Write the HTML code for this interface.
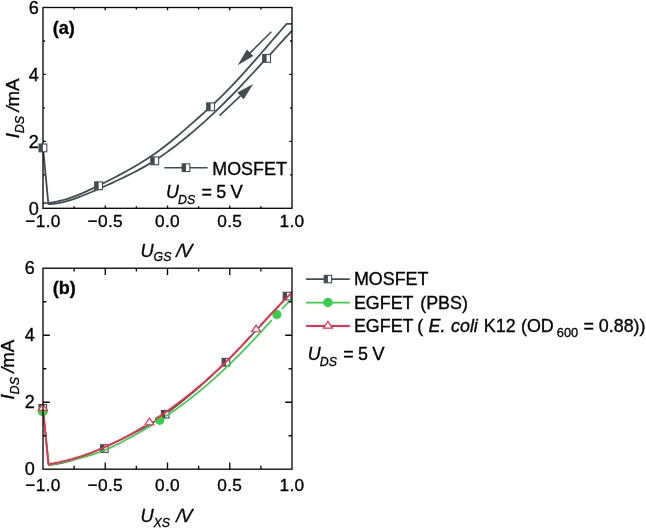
<!DOCTYPE html>
<html><head><meta charset="utf-8"><title>chart</title>
<style>html,body{margin:0;padding:0;background:#fff}svg{display:block;filter:blur(0.4px)}text{stroke:#000;stroke-width:.32px}</style>
</head><body>
<svg width="646" height="528" viewBox="0 0 646 528" font-family="'Liberation Sans', sans-serif" fill="#000">
<rect width="646" height="528" fill="#fff"/>
<text x="43.00" y="226.60" font-size="17.3" letter-spacing="0.3" text-anchor="middle">−1.0</text>
<text x="105.25" y="226.60" font-size="17.3" letter-spacing="0.3" text-anchor="middle">−0.5</text>
<text x="167.50" y="226.60" font-size="17.3" letter-spacing="0.3" text-anchor="middle">0.0</text>
<text x="229.75" y="226.60" font-size="17.3" letter-spacing="0.3" text-anchor="middle">0.5</text>
<text x="292.00" y="226.60" font-size="17.3" letter-spacing="0.3" text-anchor="middle">1.0</text>
<text x="38.70" y="214.80" font-size="18" text-anchor="end">0</text>
<text x="38.70" y="147.87" font-size="18" text-anchor="end">2</text>
<text x="38.70" y="80.93" font-size="18" text-anchor="end">4</text>
<text x="38.70" y="14.00" font-size="18" text-anchor="end">6</text>
<polyline points="43.00,147.90 48.40,204.13 53.27,203.75 58.14,203.04 63.02,202.04 67.89,200.77 72.76,199.28 77.63,197.60 82.50,195.76 87.38,193.79 92.25,191.74 97.12,189.64 101.99,187.49 106.86,185.30 111.74,183.07 116.61,180.80 121.48,178.48 126.35,176.11 131.22,173.69 136.10,171.20 140.97,168.61 145.84,165.90 150.71,163.03 155.58,159.99 160.46,156.77 165.33,153.38 170.20,149.84 175.07,146.18 179.94,142.41 184.82,138.52 189.69,134.51 194.56,130.39 199.43,126.15 204.30,121.81 209.18,117.36 214.05,112.80 218.92,108.14 223.79,103.37 228.66,98.51 233.54,93.55 238.41,88.51 243.28,83.39 248.15,78.22 253.02,72.99 257.90,67.73 262.77,62.44 267.64,57.13 272.51,51.81 277.38,46.50 282.26,41.20 287.13,35.93 292.00,30.70" fill="none" stroke="#414c50" stroke-width="1.8" stroke-linejoin="round"/>
<polyline points="43.00,203.11 47.87,202.87 52.74,202.29 57.62,201.41 62.49,200.24 67.36,198.81 72.23,197.17 77.10,195.32 81.98,193.31 86.85,191.16 91.72,188.89 96.59,186.54 101.46,184.13 106.34,181.69 111.21,179.22 116.08,176.70 120.95,174.13 125.82,171.49 130.70,168.76 135.57,165.94 140.44,163.01 145.31,159.95 150.18,156.76 155.06,153.42 159.93,149.92 164.80,146.24 169.67,142.42 174.54,138.45 179.42,134.37 184.29,130.18 189.16,125.92 194.03,121.60 198.90,117.23 203.78,112.84 208.65,108.45 213.52,104.01 218.39,99.43 223.26,94.67 228.14,89.74 233.01,84.66 237.88,79.45 242.75,74.13 247.62,68.70 252.50,63.20 257.37,57.63 262.24,52.02 267.11,46.38 271.98,40.73 276.86,35.09 281.73,29.47 286.60,23.90 292.00,23.90" fill="none" stroke="#414c50" stroke-width="1.8" stroke-linejoin="round"/>
<rect x="43.0" y="7.5" width="249.0" height="200.8" fill="none" stroke="#0a0a0a" stroke-width="1.35"/>
<path d="M74.12 208.3v-2.0M74.12 7.5v2.0M105.25 208.3v-2.8M105.25 7.5v2.8M136.38 208.3v-2.0M136.38 7.5v2.0M167.50 208.3v-2.8M167.50 7.5v2.8M198.62 208.3v-2.0M198.62 7.5v2.0M229.75 208.3v-2.8M229.75 7.5v2.8M260.88 208.3v-2.0M260.88 7.5v2.0M43.0 174.83h2.0M292.0 174.83h-2.0M43.0 141.37h2.8M292.0 141.37h-2.8M43.0 107.90h2.0M292.0 107.90h-2.0M43.0 74.43h2.8M292.0 74.43h-2.8M43.0 40.97h2.0M292.0 40.97h-2.0" stroke="#0a0a0a" stroke-width="1.35" fill="none"/>
<rect x="39.00" y="144.00" width="7.8" height="7.8" fill="#fff" stroke="#414c50" stroke-width="1.1"/><rect x="39.00" y="144.00" width="3.90" height="7.8" fill="#414c50"/>
<rect x="94.70" y="181.90" width="7.8" height="7.8" fill="#fff" stroke="#414c50" stroke-width="1.1"/><rect x="94.70" y="181.90" width="3.90" height="7.8" fill="#414c50"/>
<rect x="150.80" y="156.90" width="7.8" height="7.8" fill="#fff" stroke="#414c50" stroke-width="1.1"/><rect x="150.80" y="156.90" width="3.90" height="7.8" fill="#414c50"/>
<rect x="206.70" y="102.90" width="7.8" height="7.8" fill="#fff" stroke="#414c50" stroke-width="1.1"/><rect x="206.70" y="102.90" width="3.90" height="7.8" fill="#414c50"/>
<rect x="262.70" y="54.50" width="7.8" height="7.8" fill="#fff" stroke="#414c50" stroke-width="1.1"/><rect x="262.70" y="54.50" width="3.90" height="7.8" fill="#414c50"/>
<line x1="271.40" y1="31.70" x2="250.11" y2="52.86" stroke="#414c50" stroke-width="1.6"/><polygon points="237.70,65.20 246.87,49.60 253.35,56.12" fill="#414c50"/>
<line x1="219.50" y1="115.70" x2="240.47" y2="95.91" stroke="#414c50" stroke-width="1.6"/><polygon points="253.20,83.90 243.63,99.26 237.32,92.56" fill="#414c50"/>
<line x1="164.4" y1="167.7" x2="207.6" y2="167.7" stroke="#414c50" stroke-width="1.6"/>
<rect x="182.15" y="163.85" width="7.7" height="7.7" fill="#fff" stroke="#414c50" stroke-width="1.1"/><rect x="182.15" y="163.85" width="3.85" height="7.7" fill="#414c50"/>
<text x="212.3" y="174.7" font-size="17.9">MOSFET</text>
<text x="166.1" y="198.4" font-size="17.9" font-style="italic">U</text>
<text x="178.1" y="204.1" font-size="12.3" font-style="italic">DS</text>
<text x="201.5" y="198.4" font-size="17.9">=</text>
<text x="216.3" y="198.4" font-size="17.9">5</text>
<text x="230.5" y="198.4" font-size="18.5">V</text>
<text x="52.8" y="33.8" font-size="18" font-weight="bold">(a)</text>
<text x="140.6" y="256.5" font-size="18.2" font-style="italic">U</text>
<text x="153.6" y="261.4" font-size="12.3" font-style="italic">GS</text>
<text x="176.3" y="256.5" font-size="18.2" font-style="italic">/</text>
<text x="180.6" y="256.5" font-size="18.2" font-style="italic">V</text>
<g transform="translate(18.7,138.2) rotate(-90)" font-size="18.7"><text x="0" y="0" font-style="italic">I</text><text x="5" y="5" font-size="12.5" font-style="italic">DS</text><text x="26.6" y="0" font-style="italic">/</text><text x="31.6" y="0">mA</text></g>
<text x="43.00" y="491.00" font-size="17.3" letter-spacing="0.3" text-anchor="middle">−1.0</text>
<text x="105.25" y="491.00" font-size="17.3" letter-spacing="0.3" text-anchor="middle">−0.5</text>
<text x="167.50" y="491.00" font-size="17.3" letter-spacing="0.3" text-anchor="middle">0.0</text>
<text x="229.75" y="491.00" font-size="17.3" letter-spacing="0.3" text-anchor="middle">0.5</text>
<text x="292.00" y="491.00" font-size="17.3" letter-spacing="0.3" text-anchor="middle">1.0</text>
<text x="34.70" y="475.10" font-size="18" text-anchor="end">0</text>
<text x="34.70" y="408.10" font-size="18" text-anchor="end">2</text>
<text x="34.70" y="341.10" font-size="18" text-anchor="end">4</text>
<text x="34.70" y="274.10" font-size="18" text-anchor="end">6</text>
<text x="52.8" y="294.2" font-size="18" font-weight="bold">(b)</text>
<text x="140.6" y="522.0" font-size="18.2" font-style="italic">U</text>
<text x="153.6" y="526.9" font-size="12.3" font-style="italic">XS</text>
<text x="176.3" y="522.0" font-size="18.2" font-style="italic">/</text>
<text x="180.6" y="522.0" font-size="18.2" font-style="italic">V</text>
<g transform="translate(14.2,399.4) rotate(-90)" font-size="18.7"><text x="0" y="0" font-style="italic">I</text><text x="5" y="5" font-size="12.5" font-style="italic">DS</text><text x="26.6" y="0" font-style="italic">/</text><text x="31.6" y="0">mA</text></g>
<clipPath id="cb"><rect x="37.0" y="268.2" width="255.0" height="201.0"/></clipPath>
<g>
<polyline points="43.00,408.30 48.60,464.92 53.47,464.53 58.34,463.81 63.20,462.79 68.07,461.52 72.94,460.02 77.81,458.33 82.68,456.49 87.54,454.52 92.41,452.47 97.28,450.37 102.15,448.22 107.02,446.03 111.88,443.80 116.75,441.53 121.62,439.21 126.49,436.85 131.36,434.43 136.22,431.94 141.09,429.34 145.96,426.63 150.83,423.76 155.70,420.72 160.56,417.49 165.43,414.10 170.30,410.57 175.17,406.91 180.04,403.14 184.90,399.24 189.77,395.24 194.64,391.12 199.51,386.89 204.38,382.55 209.24,378.10 214.11,373.54 218.98,368.88 223.85,364.12 228.72,359.26 233.58,354.30 238.45,349.26 243.32,344.15 248.19,338.98 253.06,333.76 257.92,328.50 262.79,323.21 267.66,317.91 272.53,312.59 277.40,307.29 282.26,301.99 287.13,296.73 292.00,291.50" fill="none" stroke="#414c50" stroke-width="1.5" stroke-linejoin="round"/>
<rect x="39.00" y="404.50" width="7.6" height="7.6" fill="#fff" stroke="#414c50" stroke-width="1.1"/><rect x="39.00" y="404.50" width="3.80" height="7.6" fill="#414c50"/>
<rect x="100.50" y="444.80" width="7.6" height="7.6" fill="#fff" stroke="#414c50" stroke-width="1.1"/><rect x="100.50" y="444.80" width="3.80" height="7.6" fill="#414c50"/>
<rect x="161.40" y="410.50" width="7.6" height="7.6" fill="#fff" stroke="#414c50" stroke-width="1.1"/><rect x="161.40" y="410.50" width="3.80" height="7.6" fill="#414c50"/>
<rect x="222.10" y="358.40" width="7.6" height="7.6" fill="#fff" stroke="#414c50" stroke-width="1.1"/><rect x="222.10" y="358.40" width="3.80" height="7.6" fill="#414c50"/>
<rect x="283.20" y="292.30" width="7.6" height="7.6" fill="#fff" stroke="#414c50" stroke-width="1.1"/><rect x="283.20" y="292.30" width="3.80" height="7.6" fill="#414c50"/>
<polyline points="43.80,418.44 43.90,419.34 44.00,420.25 44.10,421.15 44.20,422.05 44.30,422.96 44.40,423.86 44.50,424.77 44.60,425.67 44.70,426.58 44.80,427.48 44.90,428.39 45.00,429.29 45.10,430.20 45.20,431.10 45.30,432.00 45.40,432.91 45.50,433.81 45.60,434.72 45.70,435.62 45.80,436.53 45.90,437.43 46.00,438.34 46.10,439.24 46.20,440.15 46.30,441.05 46.40,441.95 46.50,442.86 46.60,443.76 46.70,444.67 46.80,445.57 46.90,446.48 47.00,447.38 47.10,448.29 47.20,449.19 47.30,450.10 47.40,451.00 47.50,451.90 47.60,452.81 47.70,453.71 47.80,454.62 47.90,455.52 48.00,456.43 48.10,457.33 48.20,458.24 48.30,459.14 48.40,460.04 48.50,460.95 48.60,461.85 48.70,462.76 48.80,463.66 48.90,464.57" fill="none" stroke="#35cf4a" stroke-width="1.7" stroke-linejoin="round"/>
<polyline points="49.00,465.47 50.01,465.22 51.02,464.98 52.04,464.73 53.05,464.49 54.06,464.25 55.08,464.02 56.09,463.78 57.10,463.55 58.11,463.31 59.12,463.08 60.14,462.85 61.15,462.62 62.16,462.39 63.17,462.16 64.19,461.92 65.20,461.69 66.21,461.46 67.22,461.23 68.24,460.99 69.25,460.76 70.26,460.52 71.28,460.29 72.29,460.05 73.30,459.80 74.31,459.56 75.33,459.31 76.34,459.06 77.35,458.81 78.36,458.55 79.38,458.29 80.39,458.03 81.40,457.77 82.41,457.50 83.42,457.22 84.44,456.94 85.45,456.66 86.46,456.37 87.47,456.07 88.49,455.78 89.50,455.47 90.51,455.16 91.53,454.84 92.54,454.52 93.55,454.19 94.56,453.86 95.58,453.51 96.59,453.16 97.60,452.81 98.61,452.44 99.62,452.07 100.64,451.69 101.65,451.30 102.66,450.91 103.67,450.50 104.69,450.09 105.70,449.67 106.71,449.24 107.72,448.80 108.74,448.35 109.75,447.90 110.76,447.44 111.78,446.97 112.79,446.49 113.80,446.01 114.81,445.52 115.83,445.03 116.84,444.53 117.85,444.03 118.86,443.52 119.88,443.00 120.89,442.48 121.90,441.96 122.91,441.43 123.92,440.90 124.94,440.36 125.95,439.83 126.96,439.28 127.97,438.74 128.99,438.19 130.00,437.64 131.01,437.09 132.03,436.54 133.04,435.98 134.05,435.42 135.06,434.86 136.07,434.29 137.09,433.72 138.10,433.15 139.11,432.57 140.12,432.00 141.14,431.41 142.15,430.83 143.16,430.24 144.18,429.65 145.19,429.06 146.20,428.46 147.21,427.86 148.22,427.26 149.24,426.65 150.25,426.04 151.26,425.43 152.28,424.81 153.29,424.19" fill="none" stroke="#35cf4a" stroke-width="1.7" stroke-linejoin="round"/>
<polyline points="165.44,416.47 166.45,415.80 167.46,415.13 168.47,414.45 169.49,413.77 170.50,413.09 171.51,412.39 172.53,411.70 173.54,411.00 174.55,410.29 175.56,409.58 176.57,408.86 177.59,408.14 178.60,407.41 179.61,406.68 180.62,405.94 181.64,405.19 182.65,404.44 183.66,403.69 184.68,402.93 185.69,402.16 186.70,401.39 187.71,400.62 188.72,399.83 189.74,399.05 190.75,398.26 191.76,397.46 192.78,396.66 193.79,395.85 194.80,395.04 195.81,394.22 196.82,393.40 197.84,392.57 198.85,391.74 199.86,390.90 200.88,390.06 201.89,389.21 202.90,388.36 203.91,387.50 204.93,386.64 205.94,385.77 206.95,384.90 207.96,384.03 208.97,383.14 209.99,382.26 211.00,381.37 212.01,380.47 213.03,379.57 214.04,378.67 215.05,377.76 216.06,376.84 217.07,375.92 218.09,375.00 219.10,374.07 220.11,373.14 221.12,372.20 222.14,371.26 223.15,370.31 224.16,369.36 225.18,368.41 226.19,367.45 227.20,366.48 228.21,365.51 229.22,364.54 230.24,363.56 231.25,362.58 232.26,361.59 233.28,360.60 234.29,359.61 235.30,358.61 236.31,357.61 237.32,356.60 238.34,355.59 239.35,354.57 240.36,353.55 241.38,352.53 242.39,351.50 243.40,350.46 244.41,349.43 245.43,348.39 246.44,347.34 247.45,346.29 248.46,345.24 249.47,344.18 250.49,343.12 251.50,342.06 252.51,340.99 253.53,339.91 254.54,338.84 255.55,337.76 256.56,336.67 257.57,335.59 258.59,334.49 259.60,333.40 260.61,332.30 261.62,331.20 262.64,330.10 263.65,328.99 264.66,327.89 265.68,326.78 266.69,325.67 267.70,324.56 268.71,323.45 269.73,322.34 270.74,321.23 271.75,320.12" fill="none" stroke="#35cf4a" stroke-width="1.7" stroke-linejoin="round"/>
<polyline points="281.88,309.10 282.89,308.01 283.90,306.93 284.91,305.85 285.93,304.77 286.94,303.71 287.95,302.64 288.96,301.58 289.98,300.53 290.99,299.48 292.00,298.44" fill="none" stroke="#35cf4a" stroke-width="1.7" stroke-linejoin="round"/>
<circle cx="42.8" cy="411.2" r="5.1" fill="#35cf4a"/>
<circle cx="159.7" cy="420.3" r="4.6" fill="#35cf4a"/>
<circle cx="276.8" cy="314.4" r="4.6" fill="#35cf4a"/>
<polyline points="43.63,414.30 43.72,415.24 43.81,416.19 43.90,417.13 43.99,418.07 44.08,419.02 44.17,419.96 44.26,420.90 44.35,421.85 44.44,422.79 44.53,423.73 44.62,424.68 44.71,425.62 44.80,426.56 44.89,427.50 44.98,428.45 45.07,429.39 45.16,430.33 45.25,431.28 45.34,432.22 45.43,433.16 45.52,434.11 45.61,435.05 45.70,435.99 45.79,436.93 45.88,437.88 45.97,438.82 46.06,439.76 46.15,440.71 46.24,441.65 46.33,442.59 46.42,443.54 46.51,444.48 46.60,445.42 46.69,446.37 46.78,447.31 46.87,448.25 46.96,449.19 47.05,450.14 47.14,451.08 47.23,452.02 47.32,452.97 47.41,453.91 47.50,454.85 47.59,455.80 47.68,456.74 47.77,457.68 47.86,458.63 47.95,459.57 48.04,460.51 48.13,461.45 48.22,462.40 48.31,463.34 48.40,464.28 49.41,464.11 50.43,463.94 51.45,463.76 52.46,463.58 53.48,463.39 54.49,463.19 55.50,462.99 56.52,462.78 57.53,462.57 58.55,462.36 59.56,462.14 60.58,461.91 61.59,461.68 62.61,461.44 63.62,461.20 64.64,460.95 65.66,460.70 66.67,460.44 67.69,460.18 68.70,459.91 69.72,459.64 70.73,459.36 71.75,459.08 72.76,458.79 73.78,458.50 74.79,458.20 75.80,457.90 76.82,457.59 77.83,457.28 78.85,456.96 79.86,456.64 80.88,456.31 81.89,455.98 82.91,455.64 83.92,455.30 84.94,454.95 85.95,454.60 86.97,454.24 87.98,453.88 89.00,453.51 90.02,453.14 91.03,452.76 92.04,452.38 93.06,451.99 94.07,451.60 95.09,451.20 96.10,450.80 97.12,450.40 98.13,449.99 99.15,449.57 100.16,449.15 101.18,448.72 102.19,448.29 103.21,447.86 104.22,447.42 105.24,446.97 106.25,446.52 107.27,446.07 108.28,445.61 109.30,445.15 110.31,444.68 111.33,444.21 112.34,443.73 113.36,443.25 114.38,442.76 115.39,442.27 116.41,441.77 117.42,441.27 118.44,440.77 119.45,440.25 120.47,439.74 121.48,439.22 122.50,438.70 123.51,438.17 124.53,437.63 125.54,437.10 126.56,436.55 127.57,436.01 128.58,435.45 129.60,434.90 130.61,434.34 131.63,433.77 132.64,433.20 133.66,432.63 134.68,432.05 135.69,431.47 136.71,430.88 137.72,430.29 138.73,429.69 139.75,429.09 140.76,428.48 141.78,427.87 142.79,427.26 143.81,426.64 144.82,426.01" fill="none" stroke="#f32b50" stroke-width="1.85" stroke-linejoin="round"/>
<polyline points="154.97,419.54 155.99,418.87 157.00,418.19 158.02,417.51 159.03,416.83 160.05,416.14 161.06,415.45 162.08,414.75 163.09,414.05 164.11,413.34 165.12,412.63 166.14,411.92 167.16,411.20 168.17,410.48 169.19,409.75 170.20,409.02 171.22,408.28 172.23,407.55 173.25,406.80 174.26,406.05 175.28,405.30 176.29,404.55 177.31,403.79 178.32,403.02 179.34,402.25 180.35,401.48 181.37,400.70 182.38,399.92 183.40,399.14 184.41,398.35 185.43,397.55 186.44,396.75 187.45,395.95 188.47,395.14 189.49,394.33 190.50,393.51 191.51,392.69 192.53,391.87 193.54,391.04 194.56,390.20 195.58,389.36 196.59,388.52 197.60,387.67 198.62,386.82 199.64,385.96 200.65,385.09 201.66,384.23 202.68,383.35 203.69,382.47 204.71,381.59 205.72,380.70 206.74,379.81 207.75,378.91 208.77,378.01 209.79,377.10 210.80,376.19 211.81,375.27 212.83,374.35 213.84,373.42 214.86,372.48 215.88,371.55 216.89,370.60 217.91,369.65 218.92,368.70 219.94,367.74 220.95,366.77 221.97,365.80 222.98,364.82 223.99,363.84 225.01,362.85 226.03,361.86 227.04,360.86 228.06,359.86 229.07,358.85 230.09,357.83 231.10,356.81 232.12,355.78 233.13,354.75 234.14,353.71 235.16,352.66 236.18,351.61 237.19,350.56 238.20,349.50 239.22,348.43 240.24,347.35 241.25,346.27 242.26,345.19 243.28,344.10 244.29,343.00 245.31,341.91 246.33,340.80 247.34,339.70 248.35,338.59 249.37,337.48 250.39,336.37 251.40,335.26" fill="none" stroke="#f32b50" stroke-width="1.85" stroke-linejoin="round"/>
<polyline points="260.54,325.28 261.55,324.18 262.56,323.09 263.58,322.00 264.59,320.91 265.61,319.83 266.62,318.75 267.64,317.67 268.65,316.60 269.67,315.52 270.69,314.45 271.70,313.39 272.71,312.32 273.73,311.26 274.74,310.20 275.76,309.14 276.77,308.08 277.79,307.03 278.81,305.97 279.82,304.92 280.83,303.87 281.85,302.81 282.87,301.76 283.88,300.71 284.89,299.66 285.91,298.61 286.93,297.56 287.94,296.51 288.95,295.46 289.97,294.41 290.99,293.36 292.00,292.31" fill="none" stroke="#f32b50" stroke-width="1.85" stroke-linejoin="round"/>
<polygon points="42.80,403.75 38.30,410.45 47.30,410.45" fill="#fff" stroke="#f32b50" stroke-width="1.2" stroke-linejoin="miter"/>
<polygon points="149.50,418.05 145.00,424.75 154.00,424.75" fill="#fff" stroke="#f32b50" stroke-width="1.2" stroke-linejoin="miter"/>
<polygon points="256.10,325.05 251.60,331.75 260.60,331.75" fill="#fff" stroke="#f32b50" stroke-width="1.2" stroke-linejoin="miter"/>
</g>
<rect x="43.0" y="268.2" width="249.0" height="201.0" fill="none" stroke="#0a0a0a" stroke-width="1.35"/>
<path d="M74.12 469.2v-3.4M74.12 268.2v3.4M105.25 469.2v-6.8M105.25 268.2v6.8M136.38 469.2v-3.4M136.38 268.2v3.4M167.50 469.2v-6.8M167.50 268.2v6.8M198.62 469.2v-3.4M198.62 268.2v3.4M229.75 469.2v-6.8M229.75 268.2v6.8M260.88 469.2v-3.4M260.88 268.2v3.4M43.0 435.70h3.4M292.0 435.70h-3.4M43.0 402.20h6.8M292.0 402.20h-6.8M43.0 368.70h3.4M292.0 368.70h-3.4M43.0 335.20h6.8M292.0 335.20h-6.8M43.0 301.70h3.4M292.0 301.70h-3.4" stroke="#0a0a0a" stroke-width="1.35" fill="none"/>
<line x1="306.1" y1="279.10" x2="349.8" y2="279.10" stroke="#414c50" stroke-width="1.7"/>
<line x1="306.1" y1="302.55" x2="349.8" y2="302.55" stroke="#35cf4a" stroke-width="1.7"/>
<line x1="306.1" y1="326.00" x2="349.8" y2="326.00" stroke="#f32b50" stroke-width="2.0"/>
<rect x="324.20" y="275.40" width="7.4" height="7.4" fill="#fff" stroke="#414c50" stroke-width="1.1"/><rect x="324.20" y="275.40" width="3.70" height="7.4" fill="#414c50"/>
<circle cx="327.9" cy="302.55" r="4.7" fill="#35cf4a"/>
<polygon points="327.90,321.45 323.40,328.15 332.40,328.15" fill="#fff" stroke="#f32b50" stroke-width="1.2" stroke-linejoin="miter"/>
<text x="353.9" y="285.2" font-size="17.9">MOSFET</text>
<text x="353.9" y="308.9" font-size="17.9" word-spacing="2">EGFET (PBS)</text>
<text x="353.9" y="332.3" font-size="17.9">EGFET</text>
<text x="417.3" y="332.3" font-size="17.9">(</text>
<text x="428.5" y="332.3" font-size="17.9" font-style="italic">E.</text>
<text x="451.0" y="332.3" font-size="17.9" font-style="italic">coli</text>
<text x="483.8" y="332.3" font-size="17.9">K12</text>
<text x="521.0" y="332.3" font-size="17.9">(OD</text>
<text x="556.8" y="337.3" font-size="12.8">600</text>
<text x="583.5" y="332.3" font-size="17.9">=</text>
<text x="598.8" y="332.3" font-size="17.9">0.88))</text>
<text x="307.8" y="360.3" font-size="17.9" font-style="italic">U</text>
<text x="319.8" y="366.0" font-size="12.3" font-style="italic">DS</text>
<text x="343.2" y="360.3" font-size="17.9">=</text>
<text x="358.0" y="360.3" font-size="17.9">5</text>
<text x="372.20000000000005" y="360.3" font-size="18.5">V</text>
</svg>
</body></html>
